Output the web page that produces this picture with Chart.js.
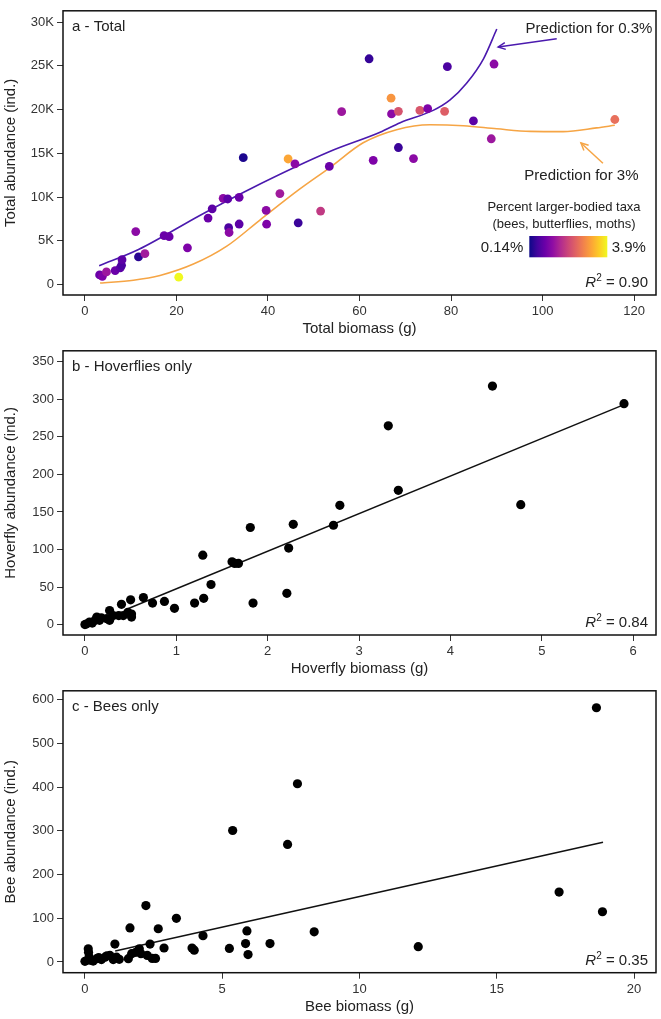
<!DOCTYPE html>
<html><head><meta charset="utf-8">
<script src="https://cdn.jsdelivr.net/npm/chart.js@4.4.0/dist/chart.umd.min.js"></script>
<style>
html,body{margin:0;padding:0;background:#fff;}
#wrap{position:relative;width:661px;height:1019px;}
.p{position:absolute;left:0;width:661px;}
</style></head><body>
<div id="wrap">
<div class="p" style="top:0;height:340px"><canvas id="ca" width="661" height="340"></canvas></div>
<div class="p" style="top:340px;height:340px"><canvas id="cb" width="661" height="340"></canvas></div>
<div class="p" style="top:680px;height:339px"><canvas id="cc" width="661" height="339"></canvas></div>
</div>
<script>
// ---------- Panel a: Total ----------
const aX = [3.2,3.8,4.7,6.6,7.7,8.0,8.1,11.1,11.7,13.1,17.3,18.4,20.5,22.4,26.9,27.8,30.2,31.2,31.4,31.5,33.7,33.7,34.6,39.6,39.7,42.6,44.4,45.9,46.6,51.5,53.4,56.1,62.1,63.0,66.9,67.0,68.5,68.5,71.8,73.2,74.9,78.6,79.2,84.9,88.8,89.4,115.8];
const aY = [1100,950,1450,1600,1900,2200,2850,6060,3160,3530,5600,5470,850,4200,7600,8660,9860,9780,6500,5950,9970,6920,14500,8480,6900,10400,14350,13800,7060,8400,13500,19750,25800,14200,21300,19500,19800,15660,14400,19900,20100,19800,24900,18700,16660,25200,18860];
const aColor = ['#6a00a8','#7e03a8','#9c179e','#6a00a8','#5c01a6','#4c02a1','#5c01a6','#8b0aa5','#2a0593','#a01a9c','#6a00a8','#6a00a8','#f0f921','#7e03a8','#6a00a8','#5c01a6','#8b0aa5','#5c01a6','#4c02a1','#8b0aa5','#6a00a8','#5c01a6','#1c068e','#8b0aa5','#7e03a8','#a01a9c','#fca636','#8b0aa5','#3b049a','#c03a83','#6a00a8','#9c179e','#350498','#7e03a8','#f89540','#8b0aa5','#d5546e','#3b049a','#8b0aa5','#d8576b','#7e03a8','#dd5e66','#4c02a1','#5c01a6','#9c179e','#8b0aa5','#e8705c'];
const aLow3X = [3.1,11.7,25.1,36,53.5,64.5,68.9,76.1,79.8,83.4,87.1,90.0];
const aLow3Y = [2150,4000,7900,10900,15200,17400,18500,19900,21100,23000,25800,29200];
const aHigh3X = [3.3,10.6,16.4,23.7,31,38.3,46.9,53.6,60.8,68.1,75.4,82.7,90,97.3,104.5,111.8,115.8];
const aHigh3Y = [180,500,1040,2340,4390,7400,10900,13400,16200,17700,18260,18150,17800,17500,17470,17900,18200];
const aXTicks = [0,20,40,60,80,100,120];
const aYTicks = [0,5000,10000,15000,20000,25000,30000];

// ---------- Panel b: Hoverflies ----------
const bX = [0,0.02,0.05,0.08,0.11,0.13,0.16,0.18,0.24,0.27,0.27,0.31,0.37,0.40,0.42,0.47,0.50,0.51,0.51,0.64,0.74,0.87,0.98,1.20,1.29,1.30,1.38,1.61,1.64,1.68,1.81,1.84,2.21,2.23,2.28,2.72,2.79,3.32,3.43,4.46,4.77,5.90];
const bY = [0,1,3.4,2,5.6,10,5.6,9,7.8,18.6,5.6,12,12,27,12,16.4,32.9,10,14,36,28.6,30.8,21.7,28.6,92.4,35,53.4,83.7,81.5,81.5,129.3,28.6,41.6,101.9,133.6,132.3,158.9,264.7,178.8,317.7,159.7,294.3];
const bFitX = [0.45,5.9];
const bFitY = [20,293];
const bXTicks = [0,1,2,3,4,5,6];
const bYTicks = [0,50,100,150,200,250,300,350];

// ---------- Panel c: Bees ----------
const cX = [0,0.12,0.13,0.15,0.18,0.3,0.43,0.5,0.6,0.73,0.8,0.91,1.03,1.09,1.15,1.25,1.58,1.64,1.70,1.85,1.98,2.04,2.22,2.27,2.37,2.45,2.57,2.67,2.88,3.33,3.9,3.98,4.3,5.26,5.38,5.85,5.9,5.94,6.74,7.38,7.74,8.35,12.14,17.27,18.63,18.85];
const cY = [1.5,30,22,12,4,2,7.6,10,5.4,11,14,15,5.4,41,11,6,7.6,78,19,22,30,19,129,15,41,8,8,76,32,100,32,27,60,31,301,42,71,17,42,269,408,69,35,160,582,115];
const cFitX = [1.1,18.87];
const cFitY = [25,274];
const cXTicks = [0,5,10,15,20];
const cYTicks = [0,100,200,300,400,500,600];

const plasmaStops = ['#0d0887','#41049d','#6a00a8','#8f0da4','#b12a90','#cc4778','#e16462','#f2844b','#fca636','#fcce25','#f0f921'];

const FONT = '"Liberation Sans", Arial, Helvetica, sans-serif';
Chart.defaults.font.family = FONT;

function pts(xs, ys){ return xs.map((x,i)=>({x:x, y:ys[i]})); }

function mkScales(o){
  return {
    x: {
      type:'linear', min:o.xmin, max:o.xmax,
      afterBuildTicks: s => { s.ticks = o.xticks.map(v=>({value:v})); },
      afterFit: s => { s.height = o.xh; },
      grid:{drawOnChartArea:false, drawTicks:true, tickLength:6, color:'#333', lineWidth:1},
      border:{display:false},
      ticks:{font:{size:13}, color:'#333', padding:3, maxRotation:0, autoSkip:false, callback: v => String(v)},
      title:{display:true, text:o.xtitle, font:{size:15}, color:'#222', padding:{top:0,bottom:o.xtpad}}
    },
    y: {
      type:'linear', min:o.ymin, max:o.ymax,
      afterBuildTicks: s => { s.ticks = o.yticks.map(v=>({value:v})); },
      afterFit: s => { s.width = 63; },
      grid:{drawOnChartArea:false, drawTicks:true, tickLength:6, color:'#333', lineWidth:1},
      border:{display:false},
      ticks:{font:{size:13}, color:'#333', padding:3, autoSkip:false, callback: o.yfmt || (v => String(v))},
      title:{display:true, text:o.ytitle, font:{size:15}, color:'#222', padding:{top:2,bottom:0}}
    }
  };
}

function drawFrameLabel(chart, label, r2){
  const ctx = chart.ctx, a = chart.chartArea;
  ctx.save();
  ctx.strokeStyle = '#111'; ctx.lineWidth = 1.5;
  ctx.strokeRect(a.left, a.top, a.right - a.left, a.bottom - a.top);
  ctx.fillStyle = '#222';
  ctx.font = '15px ' + FONT; ctx.textBaseline = 'middle'; ctx.textAlign = 'left';
  ctx.fillText(label, a.left + 9, a.top + 16);
  // R^2
  ctx.textBaseline = 'alphabetic';
  ctx.font = 'italic 15px ' + FONT; const wR = ctx.measureText('R').width;
  ctx.font = '10px ' + FONT; const w2 = ctx.measureText('2').width;
  const rest = ' = ' + r2;
  ctx.font = '15px ' + FONT; const wr = ctx.measureText(rest).width;
  let x = a.right - 8 - (wR + w2 + wr);
  const y = a.bottom - 8;
  ctx.font = 'italic 15px ' + FONT; ctx.fillText('R', x, y); x += wR;
  ctx.font = '10px ' + FONT; ctx.fillText('2', x, y - 6); x += w2;
  ctx.font = '15px ' + FONT; ctx.fillText(rest, x, y);
  ctx.restore();
}

function arrow(ctx, x1, y1, x2, y2, color){
  ctx.save();
  ctx.strokeStyle = color; ctx.lineWidth = 1.5;
  ctx.beginPath(); ctx.moveTo(x1,y1); ctx.lineTo(x2,y2); ctx.stroke();
  const ang = Math.atan2(y2-y1, x2-x1), L = 8, sp = 0.45;
  ctx.beginPath();
  ctx.moveTo(x2 - L*Math.cos(ang - sp), y2 - L*Math.sin(ang - sp));
  ctx.lineTo(x2, y2);
  ctx.lineTo(x2 - L*Math.cos(ang + sp), y2 - L*Math.sin(ang + sp));
  ctx.stroke();
  ctx.restore();
}

const baseOpts = {
  responsive:false, devicePixelRatio:1, animation:false,
  layout:{padding:{top:4,right:5,left:0,bottom:0}},
  plugins:{legend:{display:false}, tooltip:{enabled:false}}
};

// Panel a
new Chart(document.getElementById('ca'), {
  type:'scatter',
  data:{datasets:[
    {data:pts(aX,aY), pointBackgroundColor:aColor, pointBorderWidth:0, pointRadius:4.4, order:0},
    {data:pts(aLow3X,aLow3Y), showLine:true, pointRadius:0, borderColor:'#4b1aae', borderWidth:1.6, cubicInterpolationMode:'monotone', order:1},
    {data:pts(aHigh3X,aHigh3Y), showLine:true, pointRadius:0, borderColor:'#f6a545', borderWidth:1.6, cubicInterpolationMode:'monotone', order:2}
  ]},
  options:Object.assign({}, baseOpts, {
    scales: mkScales({xmin:-4.8, xmax:124.8, ymin:-1190, ymax:31280, xticks:aXTicks, yticks:aYTicks, xh:45, xtpad:2,
      xtitle:'Total biomass (g)', ytitle:'Total abundance (ind.)', yfmt: v => v === 0 ? '0' : (v/1000) + 'K'})
  }),
  plugins:[{id:'deco', afterDraw(chart){
    const ctx = chart.ctx, a = chart.chartArea, xs = chart.scales.x, ys = chart.scales.y;
    drawFrameLabel(chart, 'a - Total', '0.90');
    ctx.save();
    ctx.fillStyle = '#222'; ctx.font = '15px ' + FONT; ctx.textBaseline = 'middle';
    ctx.textAlign = 'right';
    ctx.fillText('Prediction for 0.3%', xs.getPixelForValue(124.0), ys.getPixelForValue(29200));
    ctx.textAlign = 'center';
    ctx.fillText('Prediction for 3%', xs.getPixelForValue(108.5), ys.getPixelForValue(12420));
    arrow(ctx, xs.getPixelForValue(103.1), ys.getPixelForValue(28080), xs.getPixelForValue(90.3), ys.getPixelForValue(27150), '#4b1aae');
    arrow(ctx, xs.getPixelForValue(113.2), ys.getPixelForValue(13870), xs.getPixelForValue(108.4), ys.getPixelForValue(16180), '#f6a545');
    // legend
    ctx.font = '13px ' + FONT; ctx.textAlign = 'center'; ctx.fillStyle = '#222';
    ctx.fillText('Percent larger-bodied taxa', a.right - 92, a.bottom - 88);
    ctx.fillText('(bees, butterflies, moths)', a.right - 92, a.bottom - 71);
    const bx0 = a.right - 126.7, bx1 = a.right - 48.7, by0 = a.bottom - 59, by1 = a.bottom - 37.7;
    const g = ctx.createLinearGradient(bx0, 0, bx1, 0);
    plasmaStops.forEach((c,i)=>g.addColorStop(i/(plasmaStops.length-1), c));
    ctx.fillStyle = g; ctx.fillRect(bx0, by0, bx1-bx0, by1-by0);
    ctx.fillStyle = '#222'; ctx.font = '15px ' + FONT;
    ctx.textAlign = 'right'; ctx.fillText('0.14%', a.right - 132.7, a.bottom - 47.5);
    ctx.textAlign = 'left'; ctx.fillText('3.9%', a.right - 44.3, a.bottom - 47.5);
    ctx.restore();
  }}]
});

// Panel b
new Chart(document.getElementById('cb'), {
  type:'scatter',
  data:{datasets:[
    {data:pts(bX,bY), pointBackgroundColor:'#000', pointBorderWidth:0, pointRadius:4.6, order:0},
    {data:pts(bFitX,bFitY), showLine:true, pointRadius:0, borderColor:'#111', borderWidth:1.5, order:1}
  ]},
  options:Object.assign({}, baseOpts, {
    scales: mkScales({xmin:-0.24, xmax:6.25, ymin:-13.9, ymax:364.7, xticks:bXTicks, yticks:bYTicks, xh:45, xtpad:2,
      xtitle:'Hoverfly biomass (g)', ytitle:'Hoverfly abundance (ind.)'})
  }),
  plugins:[{id:'deco', afterDraw(chart){ drawFrameLabel(chart, 'b - Hoverflies only', '0.84'); }}]
});

// Panel c
new Chart(document.getElementById('cc'), {
  type:'scatter',
  data:{datasets:[
    {data:pts(cX,cY), pointBackgroundColor:'#000', pointBorderWidth:0, pointRadius:4.6, order:0},
    {data:pts(cFitX,cFitY), showLine:true, pointRadius:0, borderColor:'#111', borderWidth:1.5, order:1}
  ]},
  options:Object.assign({}, baseOpts, {
    scales: mkScales({xmin:-0.8, xmax:20.8, ymin:-24.6, ymax:620.8, xticks:cXTicks, yticks:cYTicks, xh:46.3, xtpad:3,
      xtitle:'Bee biomass (g)', ytitle:'Bee abundance (ind.)'})
  }),
  plugins:[{id:'deco', afterDraw(chart){ drawFrameLabel(chart, 'c - Bees only', '0.35'); }}]
});
</script>
</body></html>
